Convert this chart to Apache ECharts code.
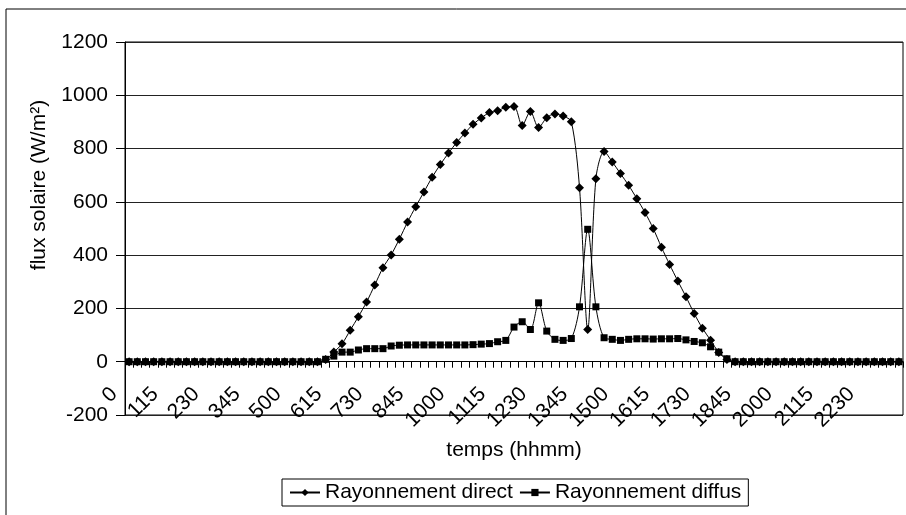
<!DOCTYPE html>
<html>
<head>
<meta charset="utf-8">
<script src="https://cdn.jsdelivr.net/npm/echarts@6/dist/echarts.min.js"></script>
<style>
html,body{margin:0;padding:0;background:#fff;}
#chart{width:906px;height:515px;}
</style>
</head>
<body>
<div id="chart"></div>
<script>
var times = ['0','15','30','45','100','115','130','145','200','215','230','245','300','315','330','345','400','415','430','445','500','515','530','545','600','615','630','645','700','715','730','745','800','815','830','845','900','915','930','945','1000','1015','1030','1045','1100','1115','1130','1145','1200','1215','1230','1245','1300','1315','1330','1345','1400','1415','1430','1445','1500','1515','1530','1545','1600','1615','1630','1645','1700','1715','1730','1745','1800','1815','1830','1845','1900','1915','1930','1945','2000','2015','2030','2045','2100','2115','2130','2145','2200','2215','2230','2245','2300','2315','2330'];

var direct = [0,0,0,0,0,0,0,0,0,0,0,0,0,0,0,0,0,0,0,0,0,0,0,0,
  8,36,67,118,169,224,288,353,401,460,524,582,637,692,740,783,823,858,891,915,935,942,955,958,
  887,939,879,916,930,922,901,653,121,687,789,750,706,662,612,560,500,430,365,303,244,181,126,81,35,8,
  0,0,0,0,0,0,0,0,0,0,0,0,0,0,0,0,0,0,0,0,0];

var diffus = [0,0,0,0,0,0,0,0,0,0,0,0,0,0,0,0,0,0,0,0,0,0,0,0,
  9,21,36,36,44,49,49,49,59,62,63,63,63,63,63,63,63,63,64,66,68,75,80,
  130,150,121,221,115,84,80,87,206,497,206,90,84,80,84,86,86,85,86,86,87,82,76,71,56,36,11,
  0,0,0,0,0,0,0,0,0,0,0,0,0,0,0,0,0,0,0,0,0];

var yTicks = {min: -200, max: 1200, step: 200};
var seriesNames = ['Rayonnement direct', 'Rayonnement diffus'];
var axisTitles = {x: 'temps (hhmm)', y: 'flux solaire (W/m²)'};

var FONT = '"Liberation Sans", Arial, sans-serif';
var chart = echarts.init(document.getElementById('chart'), null, {renderer: 'canvas'});
chart.setOption({
  animation: false,
  backgroundColor: '#fff',
  textStyle: {fontFamily: FONT, color: '#000'},
  grid: {left: 125, right: 3, top: 42, bottom: 100, show: true, borderColor: '#000', borderWidth: 1, containLabel: false},
  xAxis: {
    type: 'category', data: times, boundaryGap: true,
    axisLine: {onZero: true, lineStyle: {color: '#000', width: 1}},
    axisTick: {show: true, interval: 0, length: 6, inside: false, lineStyle: {color: '#000'}},
    axisLabel: {interval: 4, rotate: 45, fontSize: 21, fontFamily: FONT, color: '#000', margin: -39, padding: [0, 21, 0, 0]},
    splitLine: {show: false}
  },
  yAxis: {
    type: 'value', min: yTicks.min, max: yTicks.max, interval: yTicks.step,
    axisLine: {show: true, lineStyle: {color: '#000', width: 1}},
    axisTick: {show: true, length: 9, lineStyle: {color: '#000'}},
    axisLabel: {fontSize: 21, fontFamily: FONT, color: '#000', margin: 17, formatter: function (v) { return String(v); }},
    splitLine: {show: true, lineStyle: {color: '#222', width: 1}}
  },
  legend: {
    left: 282, top: 479, padding: [3, 7], itemGap: 6,
    itemWidth: 30, itemHeight: 9,
    borderColor: '#000', borderWidth: 1,
    textStyle: {fontSize: 21, fontFamily: FONT, color: '#000'},
    data: seriesNames
  },
  graphic: [
    {type: 'rect', silent: true, shape: {x: 6, y: 9, width: 1200, height: 1200}, style: {fill: 'none', stroke: '#000', lineWidth: 1}},
    {type: 'text', x: 39, y: 185, rotation: Math.PI / 2,
     style: {text: axisTitles.y, fontSize: 21, fontFamily: FONT, fill: '#000', align: 'center', verticalAlign: 'middle', textAlign: 'center', textVerticalAlign: 'middle'}},
    {type: 'text', x: 514, y: 450,
     style: {text: axisTitles.x, fontSize: 21, fontFamily: FONT, fill: '#000', align: 'center', verticalAlign: 'middle', textAlign: 'center', textVerticalAlign: 'middle'}}
  ],
  series: [
    {name: seriesNames[0], type: 'line', data: direct, symbol: 'diamond', symbolSize: 9, showAllSymbol: true,
     smooth: 0.3, lineStyle: {color: '#000', width: 1}, itemStyle: {color: '#000'}, z: 3},
    {name: seriesNames[1], type: 'line', data: diffus, symbol: 'rect', symbolSize: 7, showAllSymbol: true,
     smooth: 0.3, lineStyle: {color: '#000', width: 1}, itemStyle: {color: '#000'}, z: 4}
  ]
});
</script>
</body>
</html>
